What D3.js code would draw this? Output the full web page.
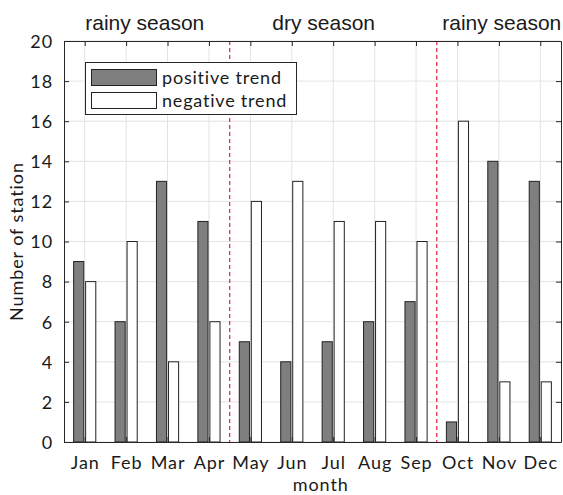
<!DOCTYPE html>
<html><head><meta charset="utf-8">
<script src="https://cdn.jsdelivr.net/npm/d3@7"></script>
<style>body{margin:0;background:#fff}svg{display:block}</style>
</head><body>
<script>
const months = ["Jan","Feb","Mar","Apr","May","Jun","Jul","Aug","Sep","Oct","Nov","Dec"];
const positiveTrend = [9,6,13,11,5,4,5,6,7,1,14,13];
const negativeTrend = [8,10,4,6,12,13,11,11,10,16,3,3];
const yTicks = [0,2,4,6,8,10,12,14,16,18,20];
const seasonLabels = ["rainy season","dry season","rainy season"];
const seasonLabelPos = [2.45, 6.77, 11.07];
const seasonBreaks = [4.5, 9.5];
const seriesNames = ["positive trend","negative trend"];

const W=563,H=495, L=64, R=561, T=41, B=442;
const svg=d3.select("body").append("svg").attr("width",W).attr("height",H);
const x=d3.scaleLinear().domain([0.5,12.5]).range([L,R]);
const y=d3.scaleLinear().domain([0,20]).range([B,T]);
const axisCol="#262626", gridCol="#e3e3e3", txtCol="#1a1a1a";
const tf="Lato,'Open Sans',sans-serif";

// grid
svg.append("g").selectAll("line").data(yTicks).join("line")
  .attr("x1",L).attr("x2",R).attr("y1",d=>y(d)).attr("y2",d=>y(d)).attr("stroke",gridCol).attr("stroke-width",1);
svg.append("g").selectAll("line").data(months).join("line")
  .attr("x1",(d,i)=>x(i+1)).attr("x2",(d,i)=>x(i+1)).attr("y1",T).attr("y2",B).attr("stroke",gridCol).attr("stroke-width",1);

// bars
const off=0.145, bw=0.245;
const gBars=svg.append("g");
gBars.selectAll("rect.pos").data(positiveTrend).join("rect").attr("class","pos")
  .attr("x",(d,i)=>x(i+1-off-bw/2)).attr("width",x(bw)-x(0))
  .attr("y",d=>y(d)).attr("height",d=>y(0)-y(d))
  .attr("fill","#7f7f7f").attr("stroke","#222").attr("stroke-width",1);
gBars.selectAll("rect.neg").data(negativeTrend).join("rect").attr("class","neg")
  .attr("x",(d,i)=>x(i+1+off-bw/2)).attr("width",x(bw)-x(0))
  .attr("y",d=>y(d)).attr("height",d=>y(0)-y(d))
  .attr("fill","#fff").attr("stroke","#222").attr("stroke-width",1);

// season separators
svg.append("g").selectAll("line").data(seasonBreaks).join("line")
  .attr("x1",d=>x(d)).attr("x2",d=>x(d)).attr("y1",T).attr("y2",B)
  .attr("stroke","#e8304a").attr("stroke-width",1.3).attr("stroke-dasharray","4,3");

// axes
const fs=18, ls="0.9px";
const ax=svg.append("g").attr("transform",`translate(0,${B})`)
  .call(d3.axisBottom(x).tickValues(d3.range(1,13)).tickFormat(d=>months[d-1]).tickSizeInner(-5).tickSizeOuter(0).tickPadding(14));
const ay=svg.append("g").attr("transform",`translate(${L},0)`)
  .call(d3.axisLeft(y).tickValues(yTicks).tickSizeInner(-5).tickSizeOuter(0).tickPadding(11));
const axT=svg.append("g").attr("transform",`translate(0,${T})`)
  .call(d3.axisTop(x).tickValues(d3.range(1,13)).tickFormat("").tickSizeInner(-5).tickSizeOuter(0));
const ayR=svg.append("g").attr("transform",`translate(${R},0)`)
  .call(d3.axisRight(y).tickValues(yTicks).tickFormat("").tickSizeInner(-5).tickSizeOuter(0));
[ax,ay,axT,ayR].forEach(g=>{
  g.attr("font-family",tf).attr("font-size",fs);
  g.select(".domain").attr("stroke",axisCol);
  g.selectAll(".tick line").attr("stroke",axisCol);
  g.selectAll("text").attr("fill",txtCol).attr("letter-spacing",ls);
});
ax.selectAll("text").attr("dy","0.71em");
ay.selectAll("text").attr("dy","0.35em");

// axis titles
svg.append("text").attr("x",x(6.7)).attr("y",491).attr("text-anchor","middle")
  .attr("font-family",tf).attr("font-size",fs).attr("fill",txtCol).attr("letter-spacing",ls).text("month");
svg.append("text").attr("transform",`translate(23,${(T+B)/2}) rotate(-90)`).attr("text-anchor","middle")
  .attr("font-family",tf).attr("font-size",18).attr("fill",txtCol).attr("letter-spacing",ls).text("Number of station");

// season labels
svg.append("g").selectAll("text").data(seasonLabels).join("text")
  .attr("x",(d,i)=>x(seasonLabelPos[i])).attr("y",30)
  .attr("text-anchor","middle").attr("font-family","'Liberation Sans',Arial,sans-serif").attr("font-size",21).attr("fill",txtCol).text(d=>d);

// legend
const lg=svg.append("g");
lg.append("rect").attr("x",85.5).attr("y",62.5).attr("width",211).attr("height",52).attr("fill","#fff").attr("stroke",axisCol);
const lgFill=["#7f7f7f","#fff"];
seriesNames.forEach((s,i)=>{
  lg.append("rect").attr("x",91.5).attr("y",69.5+i*23).attr("width",65).attr("height",16).attr("fill",lgFill[i]).attr("stroke","#222");
  lg.append("text").attr("x",162).attr("y",78+i*23).attr("dy","0.35em")
    .attr("font-family",tf).attr("font-size",fs).attr("fill",txtCol).attr("letter-spacing","0.8px").text(s);
});
</script>
</body></html>
